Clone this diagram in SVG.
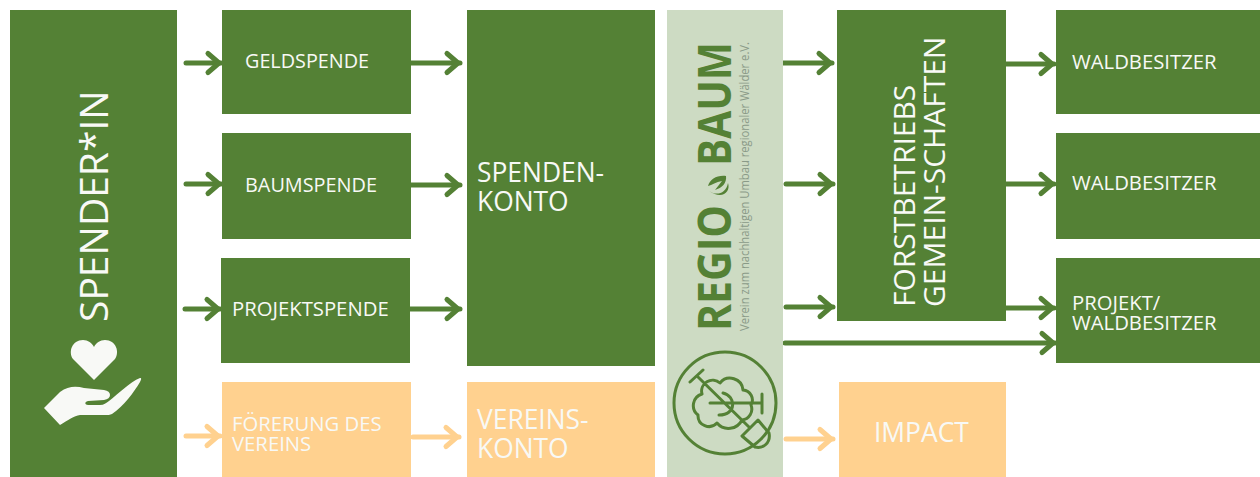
<svg xmlns="http://www.w3.org/2000/svg" width="1260" height="477" viewBox="0 0 1260 477">
<style>
text{font-family:"Open Sans","Noto Sans","DejaVu Sans",sans-serif;fill:#f8f9f6}
.g{fill:#548135}.o{fill:#ffd18f}.l{fill:#cddbc3}
.a{fill:none;stroke-width:5;stroke-linecap:round}
.ag{stroke:#548135;marker-end:url(#hg)}
.ao{stroke:#ffd18f;marker-end:url(#ho)}
.s{font-size:20.300px}.m{font-size:26.400px}.i{fill:none;stroke:#548135;stroke-width:3;stroke-linecap:round;stroke-linejoin:round}
.b{font-size:46px;font-weight:700;fill:#548135}
.f{font-size:30px}
</style>
<defs>
<marker id="hg" markerUnits="userSpaceOnUse" markerWidth="24" markerHeight="28" refX="17" refY="14" orient="auto"><path d="M4 4.500L15 14L4 23.500" fill="none" stroke="#548135" stroke-width="5" stroke-linecap="round" stroke-linejoin="round"/></marker>
<marker id="ho" markerUnits="userSpaceOnUse" markerWidth="24" markerHeight="28" refX="17" refY="14" orient="auto"><path d="M4 4.500L15 14L4 23.500" fill="none" stroke="#ffd18f" stroke-width="5" stroke-linecap="round" stroke-linejoin="round"/></marker>
</defs>
<g id="connectors">
<path class="a ag" d="M186 63H221"/><path class="a ag" d="M186 184H221"/><path class="a ag" d="M185 309H220"/>
<path class="a ao" d="M186 436H220"/>
<path class="a ag" d="M411 63H460"/><path class="a ag" d="M411 185H460"/><path class="a ag" d="M410 309H460"/>
<path class="a ao" d="M413 437H459"/>
<path class="a ag" d="M781 63H832"/><path class="a ag" d="M786 184H833"/><path class="a ag" d="M786 307H833"/>
<path class="a ag" d="M785 343H1055"/>
<path class="a ao" d="M786 439H833"/>
<path class="a ag" d="M1006 64H1054"/><path class="a ag" d="M1006 184H1054"/><path class="a ag" d="M1006 308H1054"/>
</g>
<g id="spender">
<rect class="g" x="10" y="10" width="167" height="467"/>
<text transform="translate(108 322) rotate(-90)" style="font-size:39px">SPENDER*IN</text>
<path fill="#f8f9f6" d="M94 380L73 359C68 352 72 340 83 340C88 340 92 343 94 347C96 343 100 340 105 340C116 340 120 352 115 359Z"/>
<path fill="#f8f9f6" d="M44 408L60 392C68 386 76 386 84 388L104 390C112 391 112 399 104 400L88 401C84 402 85 405 88 405H100C104 405 106 403 109 401C118 394 130 382 140 378C142 378 141 380 140 382C134 392 124 406 112 414C110 415 108 415 104 415H80C74 416 68 420 60 425Z"/>
</g>
<g id="geldspende"><rect class="g" x="222" y="10" width="189" height="104"/><text class="s" x="245" y="68" textLength="124" lengthAdjust="spacingAndGlyphs">GELDSPENDE</text></g>
<g id="baumspende"><rect class="g" x="222" y="133" width="189" height="106"/><text class="s" x="245" y="192" textLength="132" lengthAdjust="spacingAndGlyphs">BAUMSPENDE</text></g>
<g id="projektspende"><rect class="g" x="221" y="258" width="189" height="105"/><text class="s" x="232" y="316">PROJEKTSPENDE</text></g>
<g id="foerderung"><rect class="o" x="222" y="382" width="189" height="95"/><text class="s" x="232" y="431">FÖRERUNG DES</text><text class="s" x="232" y="451">VEREINS</text></g>
<g id="spendenkonto"><rect class="g" x="467" y="10" width="188" height="356"/><text class="m" x="477" y="182">SPENDEN-</text><text class="m" x="477" y="211">KONTO</text></g>
<g id="vereinskonto"><rect class="o" x="467" y="382" width="188" height="95"/><text class="m" x="477" y="429">VEREINS-</text><text class="m" x="477" y="458">KONTO</text></g>
<g id="regiobaum">
<rect class="l" x="667" y="10" width="116" height="467"/>
<text class="b" transform="translate(731 331) rotate(-90)" textLength="126" lengthAdjust="spacingAndGlyphs">REGIO</text>
<text class="b" transform="translate(731 166) rotate(-90)" textLength="124" lengthAdjust="spacingAndGlyphs">BAUM</text>
<path fill="#548135" d="M708 186C710 179 717 175 726 176C727 183 722 188 715 190L722 181C716 182 712 185 708 186ZM709 191C716 196 726 194 728 183C731 192 722 200 709 191Z"/>
<text transform="translate(749 331) rotate(-90)" style="font-size:12px;fill:#8a9a88" textLength="289" lengthAdjust="spacingAndGlyphs">Verein zum nachhaltigen Umbau regionaler Wälder e.V.</text>
<circle class="i" cx="725" cy="403" r="51"/>
<path class="i" d="M690 382L703 370M697 376L750 428M710 403H762M762 394V413M742 436L758 420L769 433C771 443 763 449 755 447ZM702 394A11 11 0 0 1 720 383A13 13 0 0 1 743 390A10 10 0 0 1 751 405A11 11 0 0 1 742 420A15 15 0 0 1 717 423A11 11 0 0 1 698 415A12 12 0 0 1 702 394ZM723 393C736 396 737 415 719 415"/>
</g>
<g id="forst"><rect class="g" x="837" y="10" width="169" height="311"/><text class="f" transform="translate(915 307) rotate(-90)">FORSTBETRIEBS</text><text class="f" transform="translate(945 307) rotate(-90)">GEMEIN-SCHAFTEN</text></g>
<g id="impact"><rect class="o" x="839" y="382" width="167" height="95"/><text class="m" x="874" y="442">IMPACT</text></g>
<g id="wald1"><rect class="g" x="1056" y="10" width="204" height="104"/><text class="s" x="1072" y="69">WALDBESITZER</text></g>
<g id="wald2"><rect class="g" x="1056" y="133" width="204" height="106"/><text class="s" x="1072" y="190">WALDBESITZER</text></g>
<g id="wald3"><rect class="g" x="1056" y="258" width="204" height="105"/><text class="s" x="1072" y="310">PROJEKT/</text><text class="s" x="1072" y="330">WALDBESITZER</text></g>
</svg>
